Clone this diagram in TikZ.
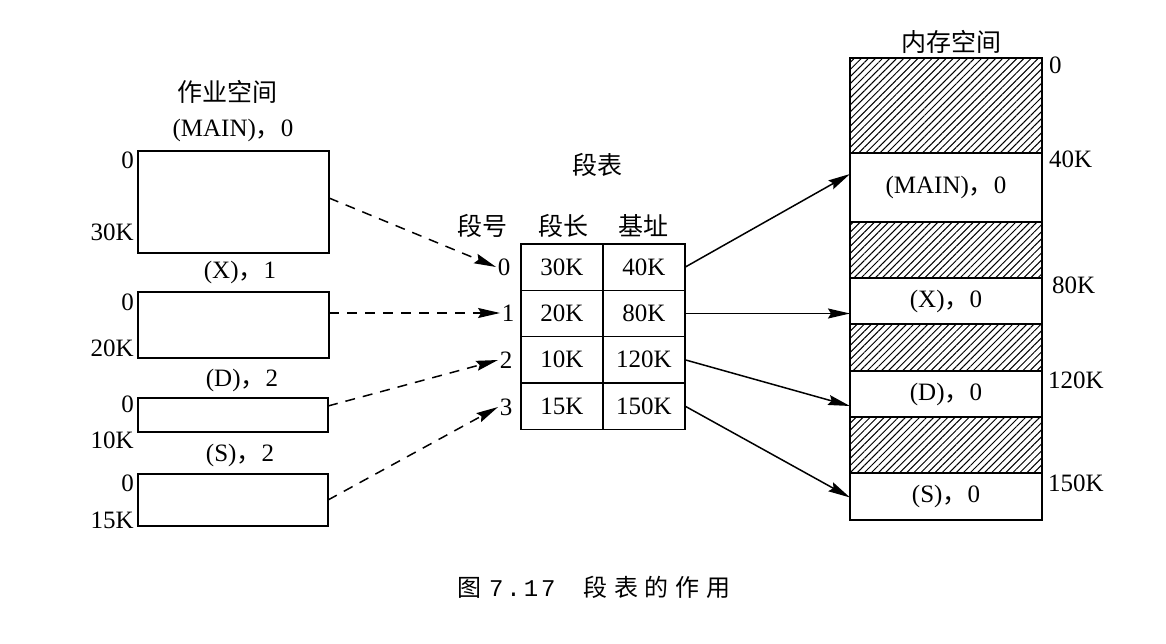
\documentclass[tikz,border=0pt]{standalone}
\usepackage{fontspec}
\setmainfont{Liberation Serif}
\newfontfamily\cjk{Noto Sans CJK SC}
\newfontfamily\capcjk[LetterSpace=28]{Noto Sans CJK SC}
\newfontfamily\capmono[LetterSpace=12]{Liberation Mono}
\newcommand\fwc{{\cjk ，}}
\usetikzlibrary{arrows.meta,patterns.meta,calc}
\begin{document}
\begin{tikzpicture}[x=1pt,y=-1pt,
  font=\fontsize{25}{30}\selectfont,
  box/.style={draw, line width=1.5pt, anchor=north west, inner sep=0pt, outer sep=0pt},
  hatch/.style={box, pattern={Lines[angle=45,distance=5pt,line width=1pt]}},
  cell/.style={draw, line width=1.5pt, minimum width=82pt, minimum height=46.3pt, inner sep=0pt, outer sep=0pt},
  lbl/.style={inner sep=0pt},
  lft/.style={inner sep=0pt, anchor=east},
  rgt/.style={inner sep=0pt, anchor=west},
  num/.style={inner sep=1.5pt},
  dasharrow/.style={line width=1.5pt, dash pattern=on 10pt off 8pt, -{Stealth[length=22pt,width=10pt,inset=3pt]}},
  solidarrow/.style={line width=1.5pt, -{Stealth[length=22pt,width=10pt,inset=3pt]}}
]
\useasboundingbox (0,0) rectangle (1166,644);
\fill[white] (0,0) rectangle (1166,644);

% ---------- job space ----------
\node[lbl] (jobtitle) at (227,92) {\cjk 作业空间};
\node[lbl] (tmain) at (233,130) {(MAIN)\fwc 0};
\node[box, minimum width=191pt, minimum height=102pt] (mainbox) at (138,151) {};
\node[lft] (m0) at (134,160) {0};
\node[lft] (m30) at (134,232) {30K};

\node[lbl] (tx) at (240,272) {(X)\fwc 1};
\node[box, minimum width=191pt, minimum height=66pt] (xbox) at (138,292) {};
\node[lft] (x0) at (134,302) {0};
\node[lft] (x20) at (134,348) {20K};

\node[lbl] (td) at (242,380) {(D)\fwc 2};
\node[box, minimum width=190pt, minimum height=34pt] (dbox) at (138,398) {};
\node[lft] (d0) at (134,404) {0};
\node[lft] (d10) at (134,440) {10K};

\node[lbl] (ts) at (240,455) {(S)\fwc 2};
\node[box, minimum width=190pt, minimum height=52pt] (sbox) at (138,474) {};
\node[lft] (s0) at (134,483) {0};
\node[lft] (s15) at (134,520) {15K};

% ---------- segment table ----------
\node[lbl] (ttitle) at (597,165) {\cjk 段表};
\node[lbl] (hnum) at (482,226) {\cjk 段号};
\node[lbl] (hlen) at (563,226) {\cjk 段长};
\node[lbl] (hbase) at (643,226) {\cjk 基址};

\node[cell] (l0) at (562,267.2) {30K};
\node[cell] (b0) at (644,267.2) {40K};
\node[cell] (l1) at (562,313.5) {20K};
\node[cell] (b1) at (644,313.5) {80K};
\node[cell] (l2) at (562,359.8) {10K};
\node[cell] (b2) at (644,359.8) {120K};
\node[cell] (l3) at (562,406.1) {15K};
\node[cell] (b3) at (644,406.1) {150K};

\node[num] (n0) at (504,267) {0};
\node[num] (n1) at (508,313) {1};
\node[num] (n2) at (506,360) {2};
\node[num] (n3) at (506,407) {3};

% ---------- memory ----------
\node[lbl] (memtitle) at (951,42) {\cjk 内存空间};
\node[hatch, minimum width=192pt, minimum height=95pt] (h1) at (850,58) {};
\node[box, minimum width=192pt, minimum height=69pt] (mm) at (850,153) {};
\node[lbl] at (mm.center) {(MAIN)\fwc 0};
\node[hatch, minimum width=192pt, minimum height=56pt] (h2) at (850,222) {};
\node[box, minimum width=192pt, minimum height=46pt] (mx) at (850,278) {};
\node[lbl] at (mx.center) {(X)\fwc 0};
\node[hatch, minimum width=192pt, minimum height=47pt] (h3) at (850,324) {};
\node[box, minimum width=192pt, minimum height=46pt] (md) at (850,371) {};
\node[lbl] at (md.center) {(D)\fwc 0};
\node[hatch, minimum width=192pt, minimum height=56pt] (h4) at (850,417) {};
\node[box, minimum width=192pt, minimum height=47pt] (ms) at (850,473) {};
\node[lbl] at (ms.center) {(S)\fwc 0};

\node[rgt] (a0) at (1049,65) {0};
\node[rgt] (a40) at (1049,159) {40K};
\node[rgt] (a80) at (1052,285) {80K};
\node[rgt] (a120) at (1048,380) {120K};
\node[rgt] (a150) at (1048,483) {150K};

% ---------- connectors ----------
\draw[dasharrow] ([yshift=4pt]mainbox.east) -- (n0.west);
\draw[dasharrow] (xbox.east |- n1.west) -- (n1.west);
\draw[dasharrow] ([yshift=9pt]dbox.east) -- (n2.west);
\draw[dasharrow] (sbox.east) -- (n3.west);

\draw[solidarrow] (b0.east) -- ([yshift=13.5pt]mm.west);
\draw[solidarrow] (b1.east) -- (mx.west |- b1.east);
\draw[solidarrow] (b2.east) -- ([yshift=-12pt]md.west);
\draw[solidarrow] (b3.east) -- ([yshift=-1pt]ms.west);

% ---------- caption ----------
\node[rgt] (cap) at (457,587) {\fontsize{24}{28}\selectfont\cjk 图\hspace{8pt}\capmono 7.17\hspace{28pt}\capcjk 段表的作用};
\end{tikzpicture}
\end{document}
